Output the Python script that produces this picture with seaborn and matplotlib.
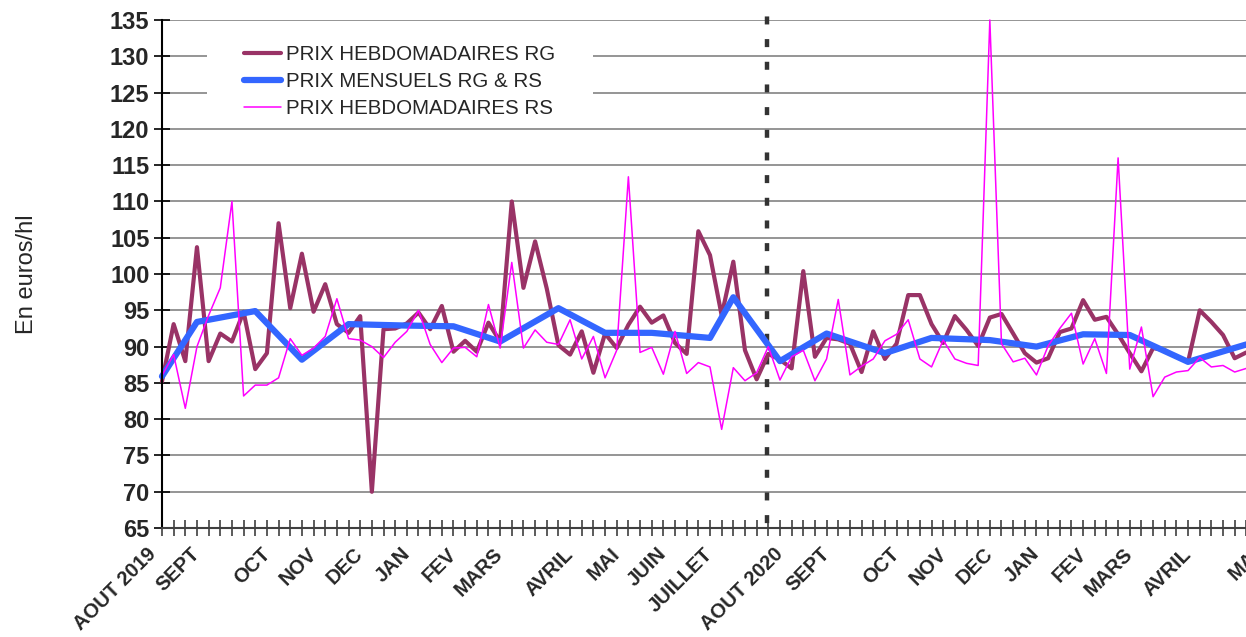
import numpy as np
import pandas as pd
import matplotlib
matplotlib.use("Agg")
import matplotlib.pyplot as plt
import matplotlib.transforms as mtransforms
from matplotlib.patches import Rectangle
import seaborn as sns

# ==============================
# DATA
# ==============================

weeks = list(range(96))

# weekly prices RG (euros/hl)
rg_weekly = [85.2, 93.1, 88.0, 103.7, 88.0, 91.8, 90.7, 94.8, 86.9, 89.1,
             107.0, 95.3, 102.8, 94.8, 98.6, 93.1, 91.9, 94.2, 70.0, 92.4,
             92.5, 93.2, 94.7, 92.4, 95.6, 89.3, 90.8, 89.3, 93.3, 90.7,
             110.0, 98.1, 104.5, 98.0, 90.2, 88.9, 92.1, 86.4, 91.8, 89.8,
             93.0, 95.5, 93.3, 94.3, 90.5, 89.0, 105.9, 102.6, 94.3, 101.7,
             89.5, 85.5, 89.0, 88.2, 87.0, 100.4, 88.6, 91.2, 91.0, 90.4,
             86.5, 92.1, 88.3, 90.4, 97.1, 97.1, 93.1, 90.5, 94.2, 92.3,
             90.1, 94.0, 94.5, 91.8, 89.1, 87.8, 88.4, 92.0, 92.5, 96.4,
             93.7, 94.1, 91.7, 89.1, 86.6, 89.8, 89.5, 88.6, 87.9, 95.0,
             93.4, 91.6, 88.4, 89.2]

# weekly prices RS (euros/hl)
rs_weekly = [86.0, 88.9, 81.5, 90.0, 94.3, 98.1, 110.0, 83.2, 84.7, 84.7,
             85.7, 91.1, 88.8, 89.8, 91.4, 96.6, 91.1, 90.9, 90.0, 88.5,
             90.6, 92.1, 95.0, 90.3, 87.8, 89.8, 89.9, 88.6, 95.8, 89.8,
             101.6, 89.8, 92.3, 90.6, 90.3, 93.7, 88.3, 91.4, 85.7, 89.5,
             113.4, 89.2, 89.9, 86.2, 92.1, 86.3, 87.8, 87.2, 78.6, 87.1,
             85.3, 86.4, 90.0, 85.4, 88.6, 89.5, 85.3, 88.3, 96.5, 86.1,
             87.3, 88.3, 90.8, 91.7, 93.7, 88.3, 87.2, 90.9, 88.3, 87.7,
             87.4, 135.0, 90.4, 87.9, 88.4, 86.1, 90.1, 92.5, 94.6, 87.6,
             91.1, 86.3, 116.0, 86.9, 92.7, 83.1, 85.8, 86.5, 86.7, 88.5,
             87.2, 87.4, 86.5, 87.0]

# monthly prices RG & RS, placed on the week they belong to
monthly_weeks = [0, 3, 8, 12, 16, 21, 25, 29, 34, 38, 42, 47, 49,
                 53, 57, 62, 66, 71, 75, 79, 83, 88, 93]
monthly_prices = [85.9, 93.4, 94.9, 88.2, 93.1, 92.9, 92.8, 90.7, 95.3, 91.9, 91.9, 91.2, 96.8,
                  88.0, 91.8, 89.1, 91.2, 90.9, 90.0, 91.7, 91.6, 87.9, 90.3]

# month labels on the category axis
label_weeks = [0, 3, 9, 13, 17, 21, 25, 29, 35, 39, 43, 47,
               53, 57, 63, 67, 71, 75, 79, 83, 88, 94]
month_labels = ["AOUT 2019", "SEPT", "OCT", "NOV", "DEC", "JAN", "FEV", "MARS",
                "AVRIL", "MAI", "JUIN", "JUILLET",
                "AOUT 2020", "SEPT", "OCT", "NOV", "DEC", "JAN", "FEV", "MARS",
                "AVRIL", "MAI"]

y_ticks = list(range(65, 136, 5))
campaign_split = 51.85  # dashed separator between the two campaigns

# ==============================
# PLOT
# ==============================

sns.set_style("white")
plt.rcParams['font.family'] = ['Liberation Sans', 'DejaVu Sans']

weekly_rg = pd.DataFrame({"week": weeks[:len(rg_weekly)], "price": rg_weekly})
weekly_rs = pd.DataFrame({"week": weeks[:len(rs_weekly)], "price": rs_weekly})
monthly = pd.DataFrame({"week": monthly_weeks, "price": monthly_prices})

fig = plt.figure(figsize=(12.46, 6.37), dpi=100)
# plot area runs past the right border of the picture, as in the source image
ax = fig.add_axes([0.130, 0.171, 0.889, 0.7976])

sns.lineplot(data=weekly_rg, x="week", y="price", ax=ax, color="#993366",
             linewidth=3.0, label="PRIX HEBDOMADAIRES RG")
sns.lineplot(data=monthly, x="week", y="price", ax=ax, color="#3366FF",
             linewidth=4.5, label="PRIX MENSUELS RG & RS")
sns.lineplot(data=weekly_rs, x="week", y="price", ax=ax, color="#FF00FF",
             linewidth=1.1, label="PRIX HEBDOMADAIRES RS")

for line in ax.get_lines():
    line.set_clip_on(False)

sep = ax.axvline(campaign_split, ymax=1.012, color="#333333", linewidth=3.2,
                 linestyle=(4.0, (1.8, 3.3)), zorder=1)
sep.set_clip_on(False)

ax.set_xlim(0, 95)
ax.set_ylim(65, 135)
ax.set_yticks(y_ticks)
ax.set_yticklabels([str(v) for v in y_ticks], fontsize=17, fontweight="bold")
ax.yaxis.grid(True, color="#8c8c8c", linewidth=1.3)
ax.set_axisbelow(True)

# week ticks everywhere, month names only on the first week of the month
ax.set_xticks(weeks)
tick_text = [""] * len(weeks)
for w, lab in zip(label_weeks, month_labels):
    tick_text[w] = lab
ax.set_xticklabels(tick_text, fontsize=14.5, fontweight="bold", rotation=45,
                   ha="right", va="center", rotation_mode="anchor")
ax.tick_params(axis="x", bottom=True, direction="inout", length=11, width=1.2,
               color="#404040", pad=11)
ax.tick_params(axis="y", left=True, direction="inout", length=12, width=1.2,
               color="black", pad=3)

# the first label sits a little left of the axis in the source
first = ax.get_xticklabels()[0]
first.set_transform(first.get_transform() +
                    mtransforms.ScaledTranslation(-9 / 100, 0, fig.dpi_scale_trans))

for side in ["top", "right"]:
    ax.spines[side].set_visible(False)
ax.spines["left"].set_color("black")
ax.spines["left"].set_linewidth(1.5)
ax.spines["bottom"].set_color("#404040")
ax.spines["bottom"].set_linewidth(1.5)

ax.set_xlabel("")
ax.set_ylabel("En euros/hl", fontsize=17, labelpad=52)

# white legend panel hiding the grid, entries inside it
ax.add_patch(Rectangle((0.0406, 0.805), 0.3485, 0.16, transform=ax.transAxes,
                       facecolor="white", edgecolor="none", zorder=2.5))
leg = ax.legend(loc="upper left", bbox_to_anchor=(0.074, 0.951), fontsize=14.8,
                frameon=False, handlelength=1.8, handletextpad=0.25,
                labelspacing=0.4, borderpad=0, borderaxespad=0)
leg.set_zorder(3)

fig.savefig("out.png", dpi=100)
